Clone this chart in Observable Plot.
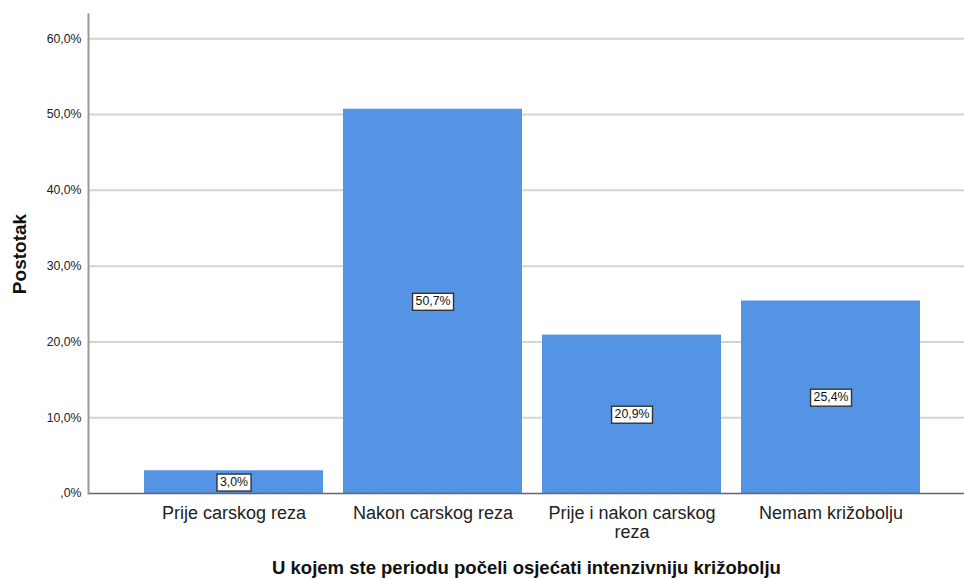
<!DOCTYPE html>
<html>
<head>
<meta charset="utf-8">
<script src="https://cdn.jsdelivr.net/npm/d3@7"></script>
<script src="https://cdn.jsdelivr.net/npm/@observablehq/plot@0.6"></script>
<style>
  html, body { margin: 0; padding: 0; background: #fff; }
  #chart svg { display: block; }
</style>
</head>
<body>
<div id="chart"></div>
<script>
const categories = ["Prije carskog reza", "Nakon carskog reza", "Prije i nakon carskog reza", "Nemam križobolju"];
const tickLabels = ["Prije carskog reza", "Nakon carskog reza", "Prije i nakon carskog\nreza", "Nemam križobolju"];
const percents = [3.0, 50.7, 20.9, 25.4];
const yTicks = [0, 10, 20, 30, 40, 50, 60];
const xTitle = "U kojem ste periodu počeli osjećati intenzivniju križobolju";
const yTitle = "Postotak";

const data = categories.map((c, i) => ({category: c, value: percents[i]}));
const fmt = v => (v === 0 ? ",0" : d3.format(".1f")(v).replace(".", ",")) + "%";
const tickMap = new Map(categories.map((c, i) => [c, tickLabels[i]]));

const chart = Plot.plot({
  width: 964,
  height: 579,
  marginLeft: 88,
  marginRight: 0,
  marginTop: 14,
  marginBottom: 86,
  style: {fontFamily: "Liberation Sans, Arial, sans-serif", background: "#fff"},
  x: {domain: categories, range: [133, 931], paddingInner: 0.1, paddingOuter: 0.05},
  y: {domain: [0, 63.2]},
  marks: [
    Plot.ruleY(yTicks.filter(d => d > 0), {stroke: "#d4d4d4", strokeWidth: 2}),
    Plot.barY(data, {x: "category", y: "value", fill: "#5594e4"}),
    Plot.ruleY([0], {stroke: "#666", strokeWidth: 1.5}),
    Plot.frame({anchor: "left", stroke: "#999", strokeWidth: 2}),
    Plot.axisY({ticks: yTicks, tickSize: 0, tickPadding: 7, tickFormat: fmt, fontSize: 12.3, fill: "#222", label: null}),
    Plot.axisX({tickSize: 0, tickPadding: 11, fontSize: 18, lineHeight: 1.1, fill: "#222", tickFormat: d => tickMap.get(d), label: null}),
    Plot.text(data, {x: "category", y: d => d.value / 2, text: d => fmt(d.value), fontSize: 12.3, fill: "#111", className: "vlabel"}),
    Plot.text([yTitle], {frameAnchor: "left", textAnchor: "middle", rotate: -90, dx: -69, fontSize: 19, fontWeight: "bold", fill: "#111"}),
    Plot.text([xTitle], {frameAnchor: "bottom", dy: 80, fontSize: 18.5, fontWeight: "bold", fill: "#111"})
  ]
});
document.getElementById("chart").appendChild(chart);

// white boxed value labels
chart.querySelectorAll("g.vlabel text").forEach(t => {
  const b = t.getBBox();
  const r = document.createElementNS("http://www.w3.org/2000/svg", "rect");
  r.setAttribute("x", b.x - 3);
  r.setAttribute("y", b.y - 1);
  r.setAttribute("width", b.width + 6);
  r.setAttribute("height", b.height + 3);
  r.setAttribute("fill", "#fff");
  r.setAttribute("stroke", "#333");
  r.setAttribute("stroke-width", "1.4");
  const tr = t.getAttribute("transform");
  if (tr) r.setAttribute("transform", tr);
  t.parentNode.insertBefore(r, t);
});
</script>
</body>
</html>
